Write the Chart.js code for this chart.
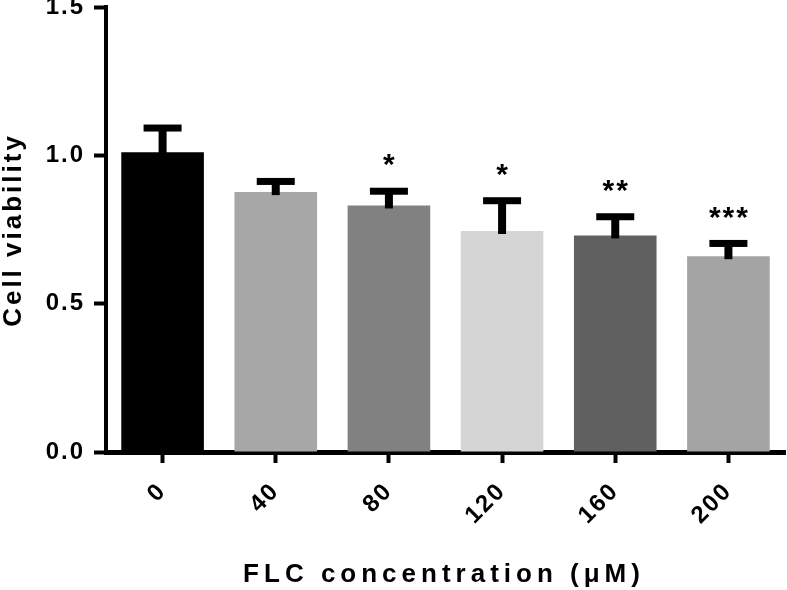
<!DOCTYPE html>
<html>
<head>
    <meta charset="UTF-8">
    <title>Cell viability</title>
    <script src="https://cdn.jsdelivr.net/npm/chart.js@4.4.0/dist/chart.umd.min.js"></script>
    <style>
        body { margin: 0; background: #fff; }
    </style>
</head>
<body>
    <canvas id="myChart" width="787" height="590"></canvas>

    <script>
        // data
        var concentrations = ["0", "40", "80", "120", "160", "200"];
        var viability = [1.01, 0.876, 0.831, 0.745, 0.730, 0.660];
        var sdUpper = [0.082, 0.036, 0.048, 0.102, 0.063, 0.043];
        var stars = ["", "", "*", "*", "**", "***"];
        var yTicks = [0, 0.5, 1.0, 1.5];

        var barColors = ['#000000', '#a7a7a7', '#818181', '#d5d5d5', '#606060', '#a4a4a4'];
        var FONT = "'Liberation Sans', Arial, sans-serif";

        // canvas letter spacing for the tick text (chart.js has no option for it)
        var spacing = {
            id: 'spacing',
            beforeUpdate: function (chart) { chart.ctx.letterSpacing = '2px'; },
            beforeDraw: function (chart) { chart.ctx.letterSpacing = '2px'; }
        };

        // error bars + significance stars
        var errorBars = {
            id: 'errorBars',
            afterDatasetsDraw: function (chart) {
                var ctx = chart.ctx;
                var meta = chart.getDatasetMeta(0);
                var ys = chart.scales.y;
                ctx.save();
                ctx.fillStyle = '#000';
                meta.data.forEach(function (bar, i) {
                    var top = ys.getPixelForValue(viability[i] + sdUpper[i]);
                    ctx.fillRect(bar.x - 4, top, 8, bar.y - top + 3);
                    ctx.fillRect(bar.x - 19, top - 3.5, 38, 7);
                    if (stars[i]) {
                        ctx.font = 'bold 30px ' + FONT;
                        ctx.letterSpacing = '2px';
                        ctx.textAlign = 'center';
                        ctx.textBaseline = 'middle';
                        ctx.fillText(stars[i], bar.x + 1, top - 25);
                    }
                });
                ctx.restore();
            }
        };

        // axis titles, drawn by hand for the wide letter spacing
        var axisTitles = {
            id: 'axisTitles',
            afterDraw: function (chart) {
                var ctx = chart.ctx;
                var area = chart.chartArea;
                ctx.save();
                ctx.fillStyle = '#000';
                ctx.font = 'bold 26px ' + FONT;
                ctx.textBaseline = 'alphabetic';
                ctx.textAlign = 'left';

                ctx.letterSpacing = '5px';
                var t = 'FLC concentration (\u03bcM)';
                var w = ctx.measureText(t).width - 5;
                ctx.fillText(t, (area.left + area.right) / 2 - w / 2 - 4, 582);

                ctx.letterSpacing = '3px';
                var t2 = 'Cell viability';
                var w2 = ctx.measureText(t2).width - 3;
                ctx.translate(21, (area.top + area.bottom) / 2 + 2);
                ctx.rotate(-Math.PI / 2);
                ctx.fillText(t2, -w2 / 2, 0);
                ctx.restore();
            }
        };

        var ctx = document.getElementById('myChart').getContext('2d');
        var myChart = new Chart(ctx, {
            type: 'bar',
            data: {
                labels: concentrations,
                datasets: [{
                    data: viability,
                    backgroundColor: barColors,
                    borderWidth: 0,
                    barPercentage: 0.73,
                    categoryPercentage: 1.0
                }]
            },
            options: {
                responsive: false,
                animation: false,
                devicePixelRatio: 1,
                layout: { padding: { left: 0, top: 7, right: 2, bottom: 0 } },
                plugins: {
                    legend: { display: false },
                    tooltip: { enabled: false }
                },
                scales: {
                    x: {
                        offset: true,
                        grid: {
                            offset: false,
                            drawOnChartArea: false,
                            tickLength: 11,
                            tickWidth: 4,
                            tickColor: '#000'
                        },
                        border: { color: '#000', width: 5 },
                        ticks: {
                            color: '#000',
                            font: { family: FONT, size: 24, weight: 'bold' },
                            minRotation: 45,
                            maxRotation: 45,
                            padding: 14
                        },
                        afterFit: function (s) {
                            s.height = 138;
                            s.paddingLeft = 0;
                            s.paddingRight = 0;
                        }
                    },
                    y: {
                        min: 0,
                        max: 1.5,
                        afterBuildTicks: function (s) {
                            s.ticks = yTicks.map(function (v) { return { value: v }; });
                        },
                        grid: {
                            drawOnChartArea: false,
                            tickLength: 12,
                            tickWidth: 4,
                            tickColor: '#000'
                        },
                        border: { color: '#000', width: 4 },
                        ticks: {
                            color: '#000',
                            font: { family: FONT, size: 24, weight: 'bold' },
                            padding: 9,
                            callback: function (v) { return Number(v).toFixed(1); }
                        },
                        afterFit: function (s) {
                            s.width = 106;
                            s.paddingTop = 0;
                            s.paddingBottom = 0;
                        }
                    }
                }
            },
            plugins: [spacing, errorBars, axisTitles]
        });
    </script>
</body>
</html>
